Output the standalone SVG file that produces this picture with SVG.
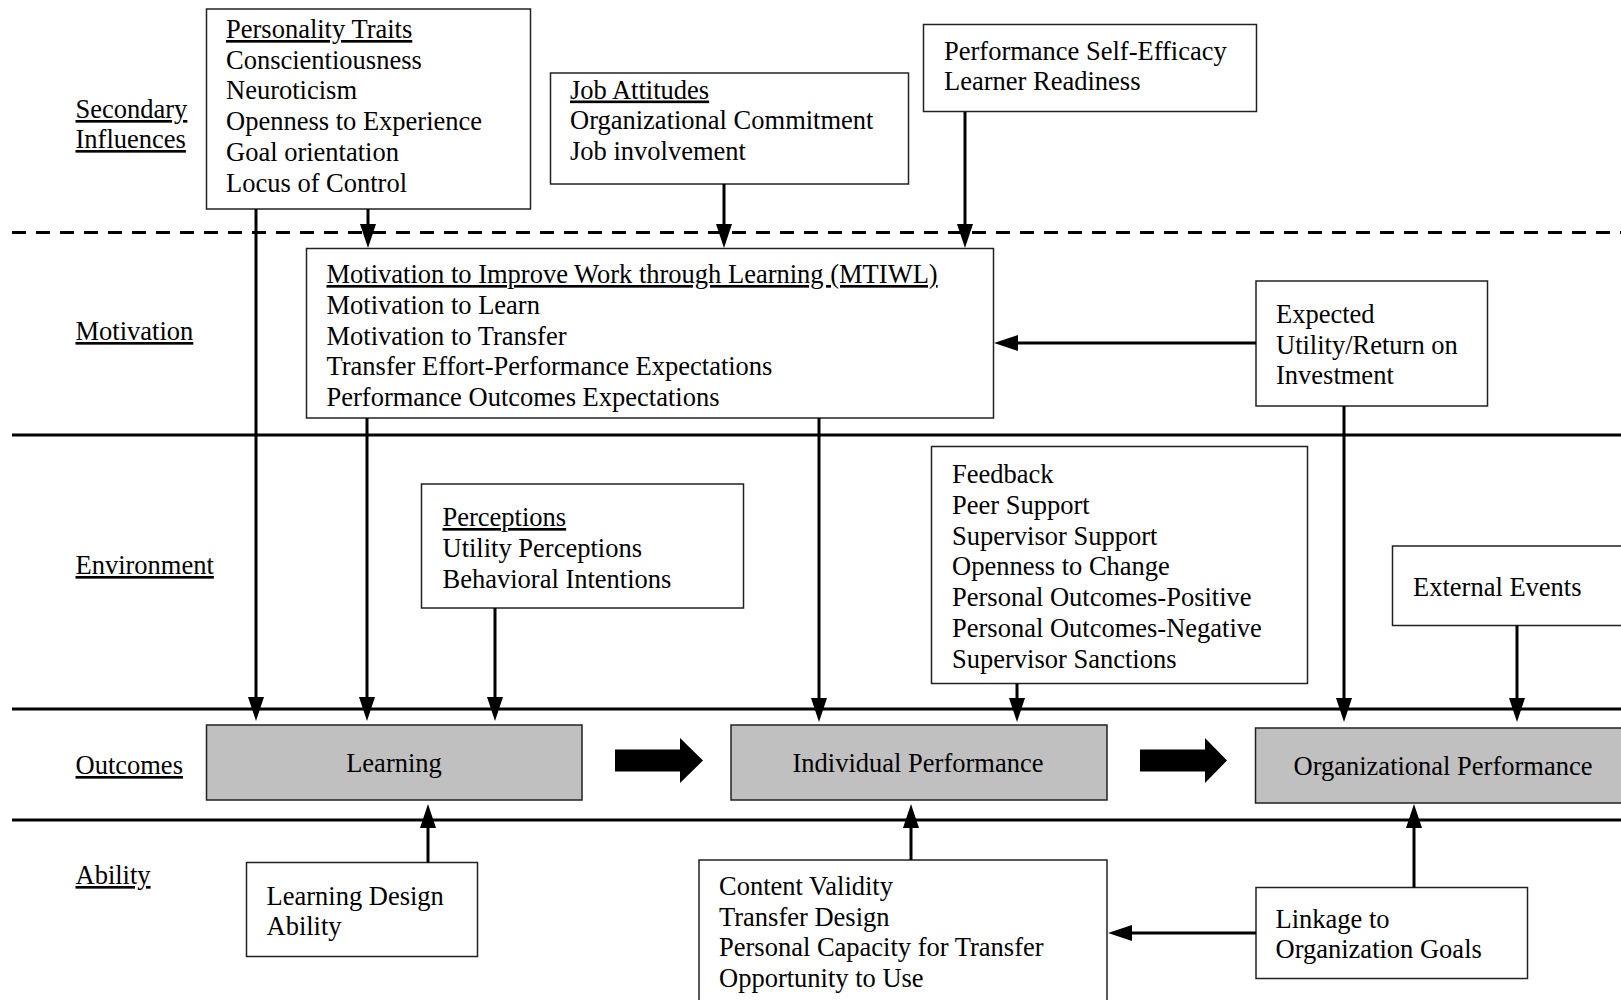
<svg xmlns="http://www.w3.org/2000/svg" width="1621" height="1000" viewBox="0 0 1621 1000">
<style>
text{font-family:"Liberation Serif","Times New Roman",serif;font-size:26.5px;fill:#000;transform:translate(0px,1px)}
.u{text-decoration:underline}
.box{fill:#fff;stroke:#222;stroke-width:1.5}
.out{fill:#c0c0c0;stroke:#222;stroke-width:1.5}
.c{stroke:#000;stroke-width:3;fill:none;marker-end:url(#ah)}
.band{stroke:#000;stroke-width:3.2;fill:none}
.mid{text-anchor:middle}
</style>
<defs>
<marker id="ah" markerUnits="userSpaceOnUse" markerWidth="24" markerHeight="16" refX="14" refY="8" orient="auto">
<path d="M0,0 L24,8 L0,16 z" fill="#000"/>
</marker>
</defs>
<rect width="1621" height="1000" fill="#fff"/>
<g id="bands">
<line class="band" x1="12" y1="232.5" x2="1621" y2="232.5" stroke-dasharray="14 10"/>
<line class="band" x1="12" y1="435" x2="1621" y2="435"/>
<line class="band" x1="12" y1="709" x2="1621" y2="709"/>
<line class="band" x1="12" y1="820" x2="1621" y2="820"/>
</g>
<g id="labels">
<text class="u" x="75.5" y="117">Secondary</text>
<text class="u" x="75.5" y="147">Influences</text>
<text class="u" x="75.5" y="339">Motivation</text>
<text class="u" x="75.5" y="573">Environment</text>
<text class="u" x="75.5" y="773">Outcomes</text>
<text class="u" x="75.5" y="883">Ability</text>
</g>
<g id="personality">
<rect class="box" x="206.5" y="9" width="324" height="200"/>
<text class="u" x="226" y="37">Personality Traits</text>
<text x="226" y="67.7">Conscientiousness</text>
<text x="226" y="98.4">Neuroticism</text>
<text x="226" y="129.1">Openness to Experience</text>
<text x="226" y="159.8">Goal orientation</text>
<text x="226" y="190.5">Locus of Control</text>
</g>
<g id="jobattitudes">
<rect class="box" x="550.5" y="73" width="358" height="111"/>
<text class="u" x="570" y="97.5">Job Attitudes</text>
<text x="570" y="128">Organizational Commitment</text>
<text x="570" y="158.7">Job involvement</text>
</g>
<g id="selfefficacy">
<rect class="box" x="923.5" y="24.5" width="333" height="87"/>
<text x="944" y="58.7">Performance Self-Efficacy</text>
<text x="944" y="88.6">Learner Readiness</text>
</g>
<g id="mtiwl">
<rect class="box" x="306.5" y="248.5" width="687" height="169.5"/>
<text class="u" x="326.5" y="282">Motivation to Improve Work through Learning (MTIWL)</text>
<text x="326.5" y="313">Motivation to Learn</text>
<text x="326.5" y="344">Motivation to Transfer</text>
<text x="326.5" y="374">Transfer Effort-Performance Expectations</text>
<text x="326.5" y="405">Performance Outcomes Expectations</text>
</g>
<g id="expected">
<rect class="box" x="1256" y="281" width="231.5" height="125"/>
<text x="1276" y="322">Expected</text>
<text x="1276" y="353">Utility/Return on</text>
<text x="1276" y="383">Investment</text>
</g>
<g id="perceptions">
<rect class="box" x="421.5" y="484" width="322" height="124"/>
<text class="u" x="442.5" y="525">Perceptions</text>
<text x="442.5" y="556">Utility Perceptions</text>
<text x="442.5" y="587">Behavioral Intentions</text>
</g>
<g id="feedback">
<rect class="box" x="931.5" y="446.5" width="376" height="237"/>
<text x="952" y="481.5">Feedback</text>
<text x="952" y="512.5">Peer Support</text>
<text x="952" y="543.5">Supervisor Support</text>
<text x="952" y="574">Openness to Change</text>
<text x="952" y="604.5">Personal Outcomes-Positive</text>
<text x="952" y="635.5">Personal Outcomes-Negative</text>
<text x="952" y="666.5">Supervisor Sanctions</text>
</g>
<g id="external">
<rect class="box" x="1392.5" y="546" width="240" height="79.5"/>
<text x="1413" y="595">External Events</text>
</g>
<g id="learning">
<rect class="out" x="206.5" y="725" width="375.5" height="75"/>
<text class="mid" x="394" y="771">Learning</text>
</g>
<g id="individual">
<rect class="out" x="731" y="725" width="376" height="75"/>
<text class="mid" x="918" y="771">Individual Performance</text>
</g>
<g id="organizational">
<rect class="out" x="1255.5" y="728" width="380" height="75"/>
<text class="mid" x="1443" y="774">Organizational Performance</text>
</g>
<g id="learningdesign">
<rect class="box" x="246.5" y="862.5" width="231" height="94"/>
<text x="266.5" y="904">Learning Design</text>
<text x="266.5" y="934">Ability</text>
</g>
<g id="content">
<rect class="box" x="699" y="860" width="408" height="150"/>
<text x="719" y="894">Content Validity</text>
<text x="719" y="925">Transfer Design</text>
<text x="719" y="955">Personal Capacity for Transfer</text>
<text x="719" y="986">Opportunity to Use</text>
</g>
<g id="linkage">
<rect class="box" x="1256" y="887.5" width="271.5" height="91"/>
<text x="1275.5" y="926.5">Linkage to</text>
<text x="1275.5" y="957">Organization Goals</text>
</g>
<g id="connectors">
<line class="c" x1="256" y1="209" x2="256" y2="711"/>
<line class="c" x1="368" y1="209" x2="368" y2="238"/>
<line class="c" x1="724" y1="184" x2="724" y2="238"/>
<line class="c" x1="965" y1="112" x2="965" y2="238"/>
<line class="c" x1="1256" y1="343" x2="1004" y2="343"/>
<line class="c" x1="367" y1="418" x2="367" y2="711"/>
<line class="c" x1="819" y1="418" x2="819" y2="712"/>
<line class="c" x1="1344" y1="406" x2="1344" y2="712"/>
<line class="c" x1="495" y1="608" x2="495" y2="711"/>
<line class="c" x1="1017" y1="683.5" x2="1017" y2="712"/>
<line class="c" x1="1517" y1="625.5" x2="1517" y2="712"/>
<line class="c" x1="428" y1="862.5" x2="428" y2="814"/>
<line class="c" x1="911" y1="860" x2="911" y2="814"/>
<line class="c" x1="1414" y1="887.5" x2="1414" y2="814"/>
<line class="c" x1="1256" y1="933" x2="1118" y2="933"/>
<polygon points="615,749.5 680,749.5 680,738 703,760.5 680,783 680,771.5 615,771.5" fill="#000"/>
<polygon points="1140,749.5 1205,749.5 1205,738 1227,760.5 1205,783 1205,771.5 1140,771.5" fill="#000"/>
</g>
</svg>
